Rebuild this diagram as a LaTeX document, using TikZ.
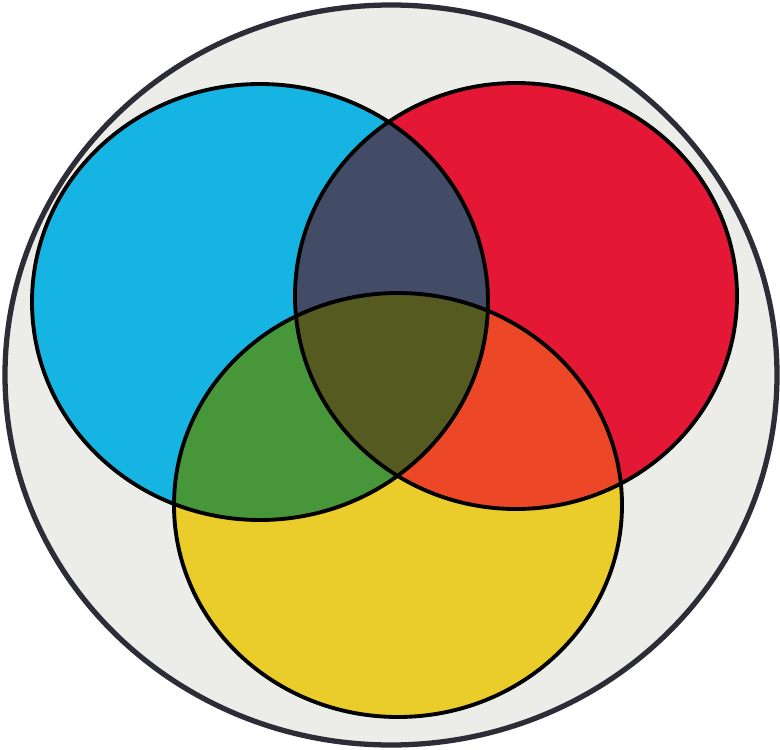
\documentclass[tikz,border=0pt]{standalone}
\usepackage{tikz}
\definecolor{paper}{RGB}{236,236,232}
\definecolor{rim}{RGB}{45,45,55}
\definecolor{cyanpaint}{RGB}{22,180,226}
\definecolor{redpaint}{RGB}{228,24,52}
\definecolor{yellowpaint}{RGB}{234,204,42}
\definecolor{slatepaint}{RGB}{66,76,102}
\definecolor{greenpaint}{RGB}{72,150,58}
\definecolor{orangepaint}{RGB}{236,72,40}
\definecolor{olivepaint}{RGB}{84,90,32}
\tikzstyle{outline} = [draw=black,
                       line width=2.2pt]
\tikzstyle{rimline} = [draw=rim,
                       line width=3pt]
% the three sets and the frame, in pixel units
\newcommand{\frameset}{(391,375) ellipse [x radius=386, y radius=370]}
\newcommand{\cyanset}{(260,302) ellipse [x radius=228, y radius=218]}
\newcommand{\redset}{(516,296) ellipse [x radius=221, y radius=213]}
\newcommand{\yellowset}{(398,505) ellipse [x radius=224, y radius=212]}

\begin{document}
\begin{tikzpicture}[x=0.2mm,y=-0.2mm]
\useasboundingbox (0,0) rectangle (780,750);
\fill[paper] \frameset;
\fill[cyanpaint] \cyanset;
\fill[redpaint] \redset;
\fill[yellowpaint] \yellowset;
% pairwise overlaps
\begin{scope}
\clip \cyanset;
\fill[slatepaint] \redset;
\fill[greenpaint] \yellowset;
\end{scope}
\begin{scope}
\clip \redset;
\fill[orangepaint] \yellowset;
\end{scope}
% centre
\begin{scope}
\clip \cyanset;
\clip \redset;
\fill[olivepaint] \yellowset;
\end{scope}
\draw[outline] \cyanset;
\draw[outline] \redset;
\draw[outline] \yellowset;
\draw[rimline] \frameset;
\end{tikzpicture}
\end{document}
